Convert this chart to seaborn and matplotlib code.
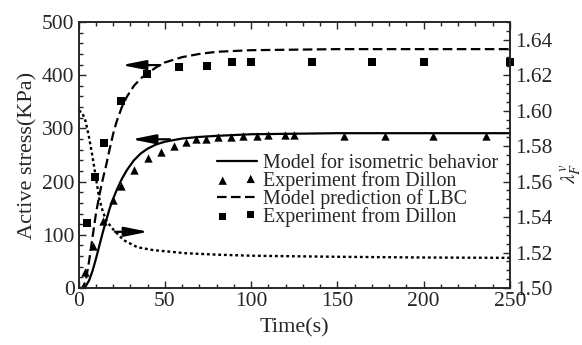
import matplotlib
matplotlib.use("Agg")
import matplotlib.pyplot as plt
import seaborn as sns
import pandas as pd
from matplotlib.ticker import MultipleLocator, FormatStrFormatter

# Model for isometric behavior (solid curve): active stress (KPa) vs time (s)
t_iso = [0, 2, 4, 6, 8, 10, 12, 14, 16, 18, 20, 22, 25, 28, 32, 36, 40, 45, 50,
         60, 70, 80, 100, 125, 150, 200, 250]
s_iso = [0, 0, 3, 14, 32, 55, 80, 105, 128, 150, 168, 184, 205, 222, 240, 253,
         262, 270, 275, 281, 284, 286, 289, 290, 291, 291, 291]

# Experiment from Dillon, isometric (triangles)
t_exp_iso = [3.7, 8.5, 14.3, 19.7, 24.3, 32.2, 40.4, 47.7, 55.4, 62.2, 68, 74,
             80.6, 88.1, 95.4, 103.2, 109.7, 119.6, 124.8, 154, 177.6, 205.6, 236]
s_exp_iso = [31, 79, 126, 165, 192, 222, 245, 256, 267, 274, 280, 281, 283, 284,
             285, 286, 287, 288, 288, 286, 286, 286, 286]

# Model prediction of LBC (dashed curve)
t_lbc = [0, 2, 4, 6, 8, 10, 12, 14, 16, 18, 20, 22, 25, 28, 32, 36, 40, 45, 50,
         60, 70, 80, 100, 125, 150, 200, 250]
s_lbc = [0, 0, 12, 50, 95, 140, 175, 205, 232, 262, 290, 313, 340, 360, 380, 394,
         404, 415, 424, 434, 440, 444, 447, 448, 449, 449, 449]

# Experiment from Dillon, LBC (squares)
t_exp_lbc = [4.6, 9.4, 14.5, 24.5, 39.4, 58.1, 74.2, 88.9, 99.9, 135.2, 170, 200, 250]
s_exp_lbc = [123, 209, 272, 351, 402, 415, 418, 424, 424, 424, 424, 424, 424]

# Fibre stretch lambda_F^v (dotted curve, right axis)
t_lam = [0, 2, 4, 6, 8, 10, 12, 14, 16, 20, 26, 34, 43, 62, 80, 100, 150, 200, 250]
lam_v = [1.600, 1.599, 1.594, 1.585, 1.574, 1.562, 1.550, 1.543, 1.538, 1.533,
         1.527, 1.523, 1.5214, 1.5196, 1.5188, 1.5182, 1.5176, 1.5172, 1.517]

legend_labels = ["Model for isometric behavior", "Experiment from Dillon",
                 "Model prediction of LBC", "Experiment from Dillon"]

sns.set_style("ticks")
plt.rcParams["font.family"] = ["Liberation Serif", "DejaVu Serif"]
plt.rcParams["mathtext.fontset"] = "stix"
plt.rcParams["axes.linewidth"] = 1.2

W, H = 582, 345
fig = plt.figure(figsize=(W / 100, H / 100), dpi=100)
ax = fig.add_axes([78.7 / W, 1 - 288 / H, (510 - 78.7) / W, (288 - 22) / H])
ax2 = ax.twinx()

df_iso = pd.DataFrame({"t": t_iso, "s": s_iso})
df_lbc = pd.DataFrame({"t": t_lbc, "s": s_lbc})
df_ei = pd.DataFrame({"t": t_exp_iso, "s": s_exp_iso})
df_el = pd.DataFrame({"t": t_exp_lbc, "s": s_exp_lbc})
df_lam = pd.DataFrame({"t": t_lam, "lam": lam_v})

sns.lineplot(data=df_iso, x="t", y="s", ax=ax, color="black", lw=1.6,
             label=legend_labels[0], sort=False)
sns.scatterplot(data=df_ei, x="t", y="s", ax=ax, color="black", marker="^",
                s=36, linewidth=0, label=legend_labels[1], clip_on=False)
sns.lineplot(data=df_lbc, x="t", y="s", ax=ax, color="black", lw=1.6,
             label=legend_labels[2], sort=False, dashes=False)
ax.lines[-1].set_dashes([4.3, 2.0])
sns.scatterplot(data=df_el, x="t", y="s", ax=ax, color="black", marker="s",
                s=28, linewidth=0, label=legend_labels[3], clip_on=False)

sns.lineplot(data=df_lam, x="t", y="lam", ax=ax2, color="black", lw=1.7,
             sort=False, legend=False)
ax2.lines[-1].set_dashes([1.2, 1.2])

ax.set_xlim(0, 250)
ax.set_ylim(0, 500)
ax2.set_ylim(1.50, 1.65)

ax.xaxis.set_major_locator(MultipleLocator(50))
ax.xaxis.set_minor_locator(MultipleLocator(10))
ax.yaxis.set_major_locator(MultipleLocator(100))
ax.yaxis.set_minor_locator(MultipleLocator(20))
ax2.yaxis.set_minor_locator(MultipleLocator(0.005))
ax2.set_yticks([1.50, 1.52, 1.54, 1.56, 1.58, 1.60, 1.62, 1.64])
ax2.yaxis.set_major_formatter(FormatStrFormatter("%.2f"))

ax.tick_params(which="both", direction="in", top=True, right=False,
               labelsize=15.5, width=1.0, pad=3)
ax.tick_params(which="major", length=5)
ax.tick_params(which="minor", length=3)
ax2.tick_params(which="both", direction="in", left=False, right=True,
                labelsize=15.5, width=1.0, pad=4)
ax2.tick_params(which="major", length=5)
ax2.tick_params(which="minor", length=3)

ax.set_xlabel("Time(s)", fontsize=16, labelpad=5)
ax.set_ylabel("Active stress(KPa)", fontsize=16, labelpad=3)
ax2.set_ylabel(r"$\lambda_F^v$", fontsize=15)
ax2.yaxis.set_label_coords(1.113, 0.43)

# direction arrows pointing each curve to its axis
arrow_kw = dict(arrowstyle="-|>,head_length=1.2,head_width=0.24", color="black",
                lw=1.6, mutation_scale=12, shrinkA=0, shrinkB=0)
ax.annotate("", xy=(24.9, 419), xytext=(47.3, 419), arrowprops=arrow_kw)
ax.annotate("", xy=(30.7, 279.5), xytext=(52.9, 279.5), arrowprops=arrow_kw)
ax2.annotate("", xy=(40.4, 1.5317), xytext=(21.0, 1.5317), arrowprops=arrow_kw)

handles, labels = ax.get_legend_handles_labels()
leg = ax.legend(handles, labels, loc="upper left",
                bbox_to_anchor=(216.7 / W, 1 - 154 / H),
                bbox_transform=fig.transFigure, frameon=False, fontsize=14.4,
                handlelength=2.0, handletextpad=0.3, labelspacing=-0.1,
                borderpad=0, borderaxespad=0, scatterpoints=2)

fig.savefig("out.png", dpi=100)
